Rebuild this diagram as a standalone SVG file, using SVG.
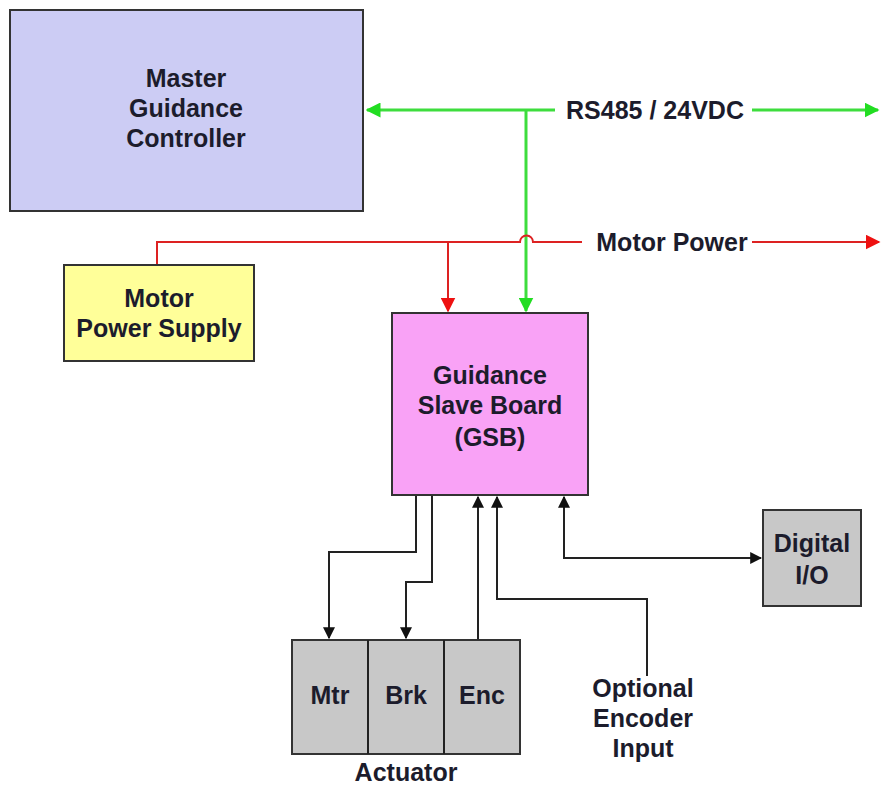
<svg xmlns="http://www.w3.org/2000/svg" width="882" height="786" viewBox="0 0 882 786">
<style>
.box{stroke:#333;stroke-width:2}
.t{font-family:"Liberation Sans",Arial,sans-serif;font-weight:bold;font-size:25px;fill:#1c1c2c;text-anchor:middle}
.g{stroke:#3ddd3d;stroke-width:3;fill:none}
.r{stroke:#dd2222;stroke-width:2;fill:none}
.k{stroke:#222;stroke-width:2;fill:none}
</style>
<defs>
<marker id="ag" viewBox="0 0 10 10" refX="9" refY="5" markerWidth="5" markerHeight="5" orient="auto-start-reverse" markerUnits="strokeWidth"><path d="M0,0L10,5L0,10z" fill="#22dd22"/></marker>
<marker id="ar" viewBox="0 0 10 10" refX="9" refY="5" markerWidth="7.5" markerHeight="7.5" orient="auto-start-reverse" markerUnits="strokeWidth"><path d="M0,0L10,5L0,10z" fill="#ee1111"/></marker>
<marker id="ak" viewBox="0 0 10 10" refX="9" refY="5" markerWidth="6" markerHeight="6" orient="auto-start-reverse" markerUnits="strokeWidth"><path d="M0,0L10,5L0,10z" fill="#111"/></marker>
</defs>
<rect width="882" height="786" fill="#fff"/>
<g id="connectors">
<path class="g" d="M555,110H367" marker-end="url(#ag)"/>
<path class="g" d="M752,110H878" marker-end="url(#ag)"/>
<path class="g" d="M526,110V311" marker-end="url(#ag)"/>
<path class="r" d="M157,265V242H520A6.5,6.5 0 0 1 533,242H582"/>
<path class="r" d="M752,242H879" marker-end="url(#ar)"/>
<path class="r" d="M448,242V311" marker-end="url(#ar)"/>
<path class="k" d="M416,496V552H329V638" marker-end="url(#ak)"/>
<path class="k" d="M432,496V582H406V638" marker-end="url(#ak)"/>
<path class="k" d="M478,640V497" marker-end="url(#ak)"/>
<path class="k" d="M647,676V599H497V497" marker-end="url(#ak)"/>
<path class="k" d="M564,497V558H761" marker-start="url(#ak)" marker-end="url(#ak)"/>
<text class="t" x="655" y="119">RS485 / 24VDC</text>
<text class="t" x="672" y="251">Motor Power</text>
</g>
<g id="master">
<rect class="box" x="10" y="10" width="353" height="201" fill="#ccccf4"/>
<text class="t" x="186" y="87">Master</text>
<text class="t" x="186" y="117">Guidance</text>
<text class="t" x="186" y="147">Controller</text>
</g>
<g id="psu">
<rect class="box" x="64" y="265" width="190" height="96" fill="#ffff99"/>
<text class="t" x="159" y="307">Motor</text>
<text class="t" x="159" y="337">Power Supply</text>
</g>
<g id="gsb">
<rect class="box" x="392" y="313" width="196" height="182" fill="#f9a2f6"/>
<text class="t" x="490" y="384">Guidance</text>
<text class="t" x="490" y="414">Slave Board</text>
<text class="t" x="490" y="446">(GSB)</text>
</g>
<g id="dio">
<rect class="box" x="763" y="510" width="98" height="96" fill="#c8c8c8"/>
<text class="t" x="812" y="552">Digital</text>
<text class="t" x="812" y="584">I/O</text>
</g>
<g id="actuator">
<rect class="box" x="292" y="640" width="228" height="114" fill="#c8c8c8"/>
<path class="k" d="M368,640V754M444,640V754"/>
<text class="t" x="330" y="704">Mtr</text>
<text class="t" x="406" y="704">Brk</text>
<text class="t" x="482" y="704">Enc</text>
<text class="t" x="406" y="781">Actuator</text>
</g>
<g id="encoder">
<text class="t" x="643" y="697">Optional</text>
<text class="t" x="643" y="727">Encoder</text>
<text class="t" x="643" y="757">Input</text>
</g>
</svg>
